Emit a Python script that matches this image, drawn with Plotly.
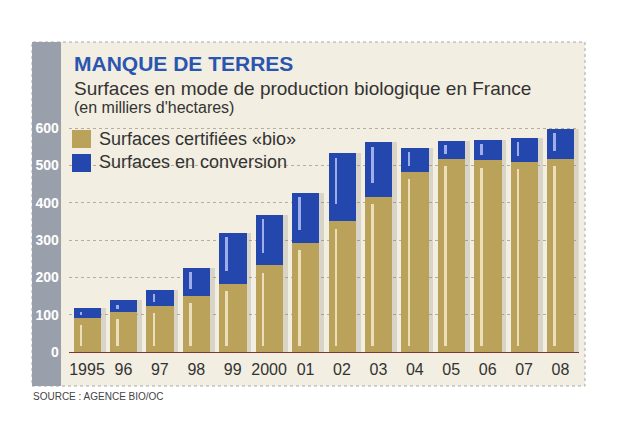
import plotly.graph_objects as go

# ---- data (thousands of hectares) ----
years = ["1995", "96", "97", "98", "99", "2000", "01", "02", "03", "04", "05", "06", "07", "08"]
certifiees = [92, 108, 124, 150, 183, 232, 292, 350, 416, 482, 518, 513, 510, 518]
conversion = [26, 31, 42, 76, 136, 135, 135, 182, 146, 65, 47, 55, 63, 80]
y_ticks = [0, 100, 200, 300, 400, 500, 600]

W, H = 622, 427
OFF = 8  # page body margin offset
GOLD = "#bba25a"
BLUE = "#2447ad"
PANEL = "#f2eee1"
BAND = "#9aa0ab"
FONT = "Liberation Sans, Arial, sans-serif"

def px(x):
    return (x - OFF) / W

def py(y):
    return 1 - (y - OFF) / H

xs = list(range(len(years)))
totals = [c + v for c, v in zip(certifiees, conversion)]

fig = go.Figure()
# shadows
fig.add_trace(go.Bar(x=xs, y=totals, width=0.75, offset=-0.375 + 0.13,
                     marker=dict(color="rgba(120,110,100,0.2)", line=dict(width=0)),
                     hoverinfo="skip", showlegend=False))
# certified
fig.add_trace(go.Bar(x=xs, y=certifiees, width=0.75, offset=-0.375,
                     marker=dict(color=GOLD, line=dict(width=0)),
                     name="Surfaces certifiées «bio»", showlegend=False))
# conversion
fig.add_trace(go.Bar(x=xs, y=conversion, base=certifiees, width=0.75, offset=-0.375,
                     marker=dict(color=BLUE, line=dict(width=0)),
                     name="Surfaces en conversion", showlegend=False))
# highlight stripes (gold)
fig.add_trace(go.Bar(x=xs, y=[c - 35 for c in certifiees], base=[15] * len(xs),
                     width=0.07, offset=-0.375 + 0.17,
                     marker=dict(color="rgba(255,248,225,0.7)", line=dict(width=0)),
                     hoverinfo="skip", showlegend=False))
# highlight stripes (blue)
fig.add_trace(go.Bar(x=xs, y=[max(v * 0.75 - 12, 4) for v in conversion],
                     base=[t - 12 - max(v * 0.75 - 12, 4) for t, v in zip(totals, conversion)],
                     width=0.07, offset=-0.375 + 0.17,
                     marker=dict(color="rgba(190,200,250,0.8)", line=dict(width=0)),
                     hoverinfo="skip", showlegend=False))

shapes = [
    # panel
    dict(type="rect", xref="paper", yref="paper", x0=px(32), x1=px(585), y0=py(386), y1=py(42),
         fillcolor=PANEL, line=dict(color="#a8a8a8", width=1, dash="dot"), layer="below"),
    # left grey band
    dict(type="rect", xref="paper", yref="paper", x0=px(32), x1=px(61), y0=py(386), y1=py(42),
         fillcolor=BAND, line=dict(width=0), layer="below"),
    # legend swatches
    dict(type="rect", xref="paper", yref="paper", x0=px(72), x1=px(91), y0=py(148), y1=py(130),
         fillcolor=GOLD, line=dict(width=0)),
    dict(type="rect", xref="paper", yref="paper", x0=px(72), x1=px(91), y0=py(172), y1=py(154),
         fillcolor=BLUE, line=dict(width=0)),
]

annotations = [
    dict(text="<b>MANQUE DE TERRES</b>", x=px(72), y=py(63), xref="paper", yref="paper",
         xanchor="left", yanchor="middle", showarrow=False,
         font=dict(family=FONT, size=21, color="#2a55b0")),
    dict(text="Surfaces en mode de production biologique en France", x=px(72), y=py(88),
         xref="paper", yref="paper", xanchor="left", yanchor="middle", showarrow=False,
         font=dict(family=FONT, size=19, color="#333333")),
    dict(text="(en milliers d'hectares)", x=px(72), y=py(107), xref="paper", yref="paper",
         xanchor="left", yanchor="middle", showarrow=False,
         font=dict(family=FONT, size=16, color="#333333")),
    dict(text="Surfaces certifiées «bio»", x=px(97), y=py(139), xref="paper", yref="paper",
         xanchor="left", yanchor="middle", showarrow=False,
         font=dict(family=FONT, size=18, color="#333333")),
    dict(text="Surfaces en conversion", x=px(97), y=py(162), xref="paper", yref="paper",
         xanchor="left", yanchor="middle", showarrow=False,
         font=dict(family=FONT, size=18, color="#333333")),
    dict(text="SOURCE : AGENCE BIO/OC", x=px(31), y=py(396), xref="paper", yref="paper",
         xanchor="left", yanchor="middle", showarrow=False,
         font=dict(family=FONT, size=10, color="#444444")),
]

y0_px, scale = 352, 0.3733
y_max = 640
fig.update_layout(
    width=W, height=H,
    margin=dict(l=0, r=0, t=0, b=0),
    paper_bgcolor="white", plot_bgcolor="rgba(0,0,0,0)",
    barmode="overlay", bargap=0,
    shapes=shapes, annotations=annotations,
    xaxis=dict(domain=[px(68.8), px(578.7)], range=[-0.5, 13.5], automargin=False,
               tickvals=xs, ticktext=years, ticks="", tickangle=0, showgrid=False,
               zeroline=False, showline=True, linecolor="#7a3a30", linewidth=1,
               ticklabelstandoff=3,
               tickfont=dict(family=FONT, size=16, color="#333333")),
    yaxis=dict(domain=[py(y0_px), py(y0_px - y_max * scale)], range=[0, y_max],
               automargin=False,
               tickvals=y_ticks, ticks="", showgrid=True, gridcolor="#b5ae9c",
               griddash="dot", gridwidth=1, zeroline=False, showline=False,
               ticklabelstandoff=9,
               tickfont=dict(family=FONT, size=14, color="white", weight="bold")),
    font=dict(family=FONT),
)

fig.write_html("out.html")
